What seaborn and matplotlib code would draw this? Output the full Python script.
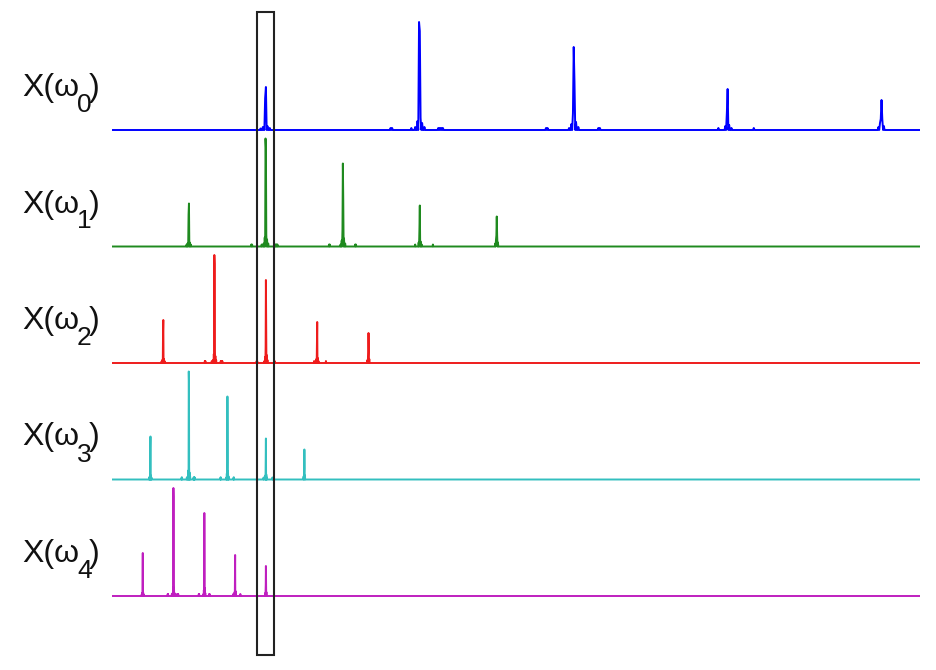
import numpy as np
import pandas as pd
import matplotlib
matplotlib.use("Agg")
import matplotlib.pyplot as plt
import seaborn as sns
from matplotlib.patches import Rectangle

# ---- data -------------------------------------------------------------
# base magnitude spectrum X(w): nonzero bins (frequency, amplitude)
bin_freqs = [96.5, 98.0, 99.5, 100.0, 101.0, 102.5,
             194.5, 197.0, 198.5, 199.5, 200.0, 200.5, 201.5, 203.0, 212.0, 213.0, 214.0, 215.0,
             181.0, 182.0, 282.0, 283.0, 297.0, 298.5, 299.5, 300.0, 300.5, 301.5, 303.0, 316.0, 317.0,
             394.0, 398.5, 399.5, 400.0, 401.0, 402.5, 417.0,
             498.0, 499.0, 499.5, 500.0, 500.5, 501.5]
bin_amps = [1.5, 3.0, 32.0, 43.0, 4.0, 2.0,
            2.0, 3.0, 9.0, 108.0, 99.0, 12.0, 7.0, 3.0, 2.0, 2.0, 2.0, 2.0,
            2.0, 2.0, 2.0, 2.0, 2.0, 6.0, 17.0, 83.0, 48.0, 8.0, 3.0, 2.0, 2.0,
            2.0, 4.0, 17.0, 41.0, 5.0, 2.0, 2.0,
            3.0, 7.0, 11.0, 30.0, 11.0, 4.0]

row_labels = ["X(ω0)", "X(ω1)", "X(ω2)", "X(ω3)", "X(ω4)"]
label_main = ["X(ω", "X(ω", "X(ω", "X(ω", "X(ω"]
label_sub = ["0", "1", "2", "3", "4"]
downsample = [1, 2, 3, 4, 5]
row_colors = ["#0000ff", "#1f8a1f", "#ee1c1c", "#33bfbf", "#bf1fbf"]
f_max = 525.0

# ---- build table ------------------------------------------------------
grid = np.arange(0, f_max + 0.25, 0.5)
spec = np.zeros_like(grid)
for f, a in zip(bin_freqs, bin_amps):
    spec[int(round(f / 0.5))] = max(spec[int(round(f / 0.5))], a)

row_gap = 116.5
frames = []
for k, m in enumerate(downsample):
    x = np.append(grid / m, f_max)
    y = np.append(spec, 0.0) - k * row_gap
    frames.append(pd.DataFrame({"freq": x, "mag": y, "row": row_labels[k]}))
df = pd.concat(frames, ignore_index=True)

# ---- plot -------------------------------------------------------------
sns.set_theme(style="white")
plt.rcParams["font.family"] = ["Liberation Sans", "DejaVu Sans"]

fig = plt.figure(figsize=(9.36, 6.70), dpi=100)
ax = fig.add_axes([112 / 936, 0, (920 - 112) / 936, 1])
sns.lineplot(data=df, x="freq", y="mag", hue="row", palette=row_colors,
             estimator=None, sort=False, units="row", legend=False,
             linewidth=1.4, ax=ax)
ax.set_xlim(0, f_max)
ax.set_ylim(-540, 130)
ax.axis("off")

# highlight box around fundamental
px = f_max / 808.0
ax.add_patch(Rectangle((145 * px, -525), 17 * px, 643, fill=False,
                       edgecolor="#222222", linewidth=1.5, clip_on=False, zorder=5))

W, H = 936.0, 670.0
for k in range(len(row_labels)):
    base = 96 + k * row_gap
    fig.text(22 / W, 1 - base / H, label_main[k], fontsize=23,
             ha="left", va="baseline", color="#111111")
    fig.text(77 / W, 1 - (base + 16) / H, label_sub[k], fontsize=19,
             ha="left", va="baseline", color="#111111")
    fig.text(89 / W, 1 - base / H, ")", fontsize=23,
             ha="left", va="baseline", color="#111111")

fig.savefig("out.png", dpi=100)
